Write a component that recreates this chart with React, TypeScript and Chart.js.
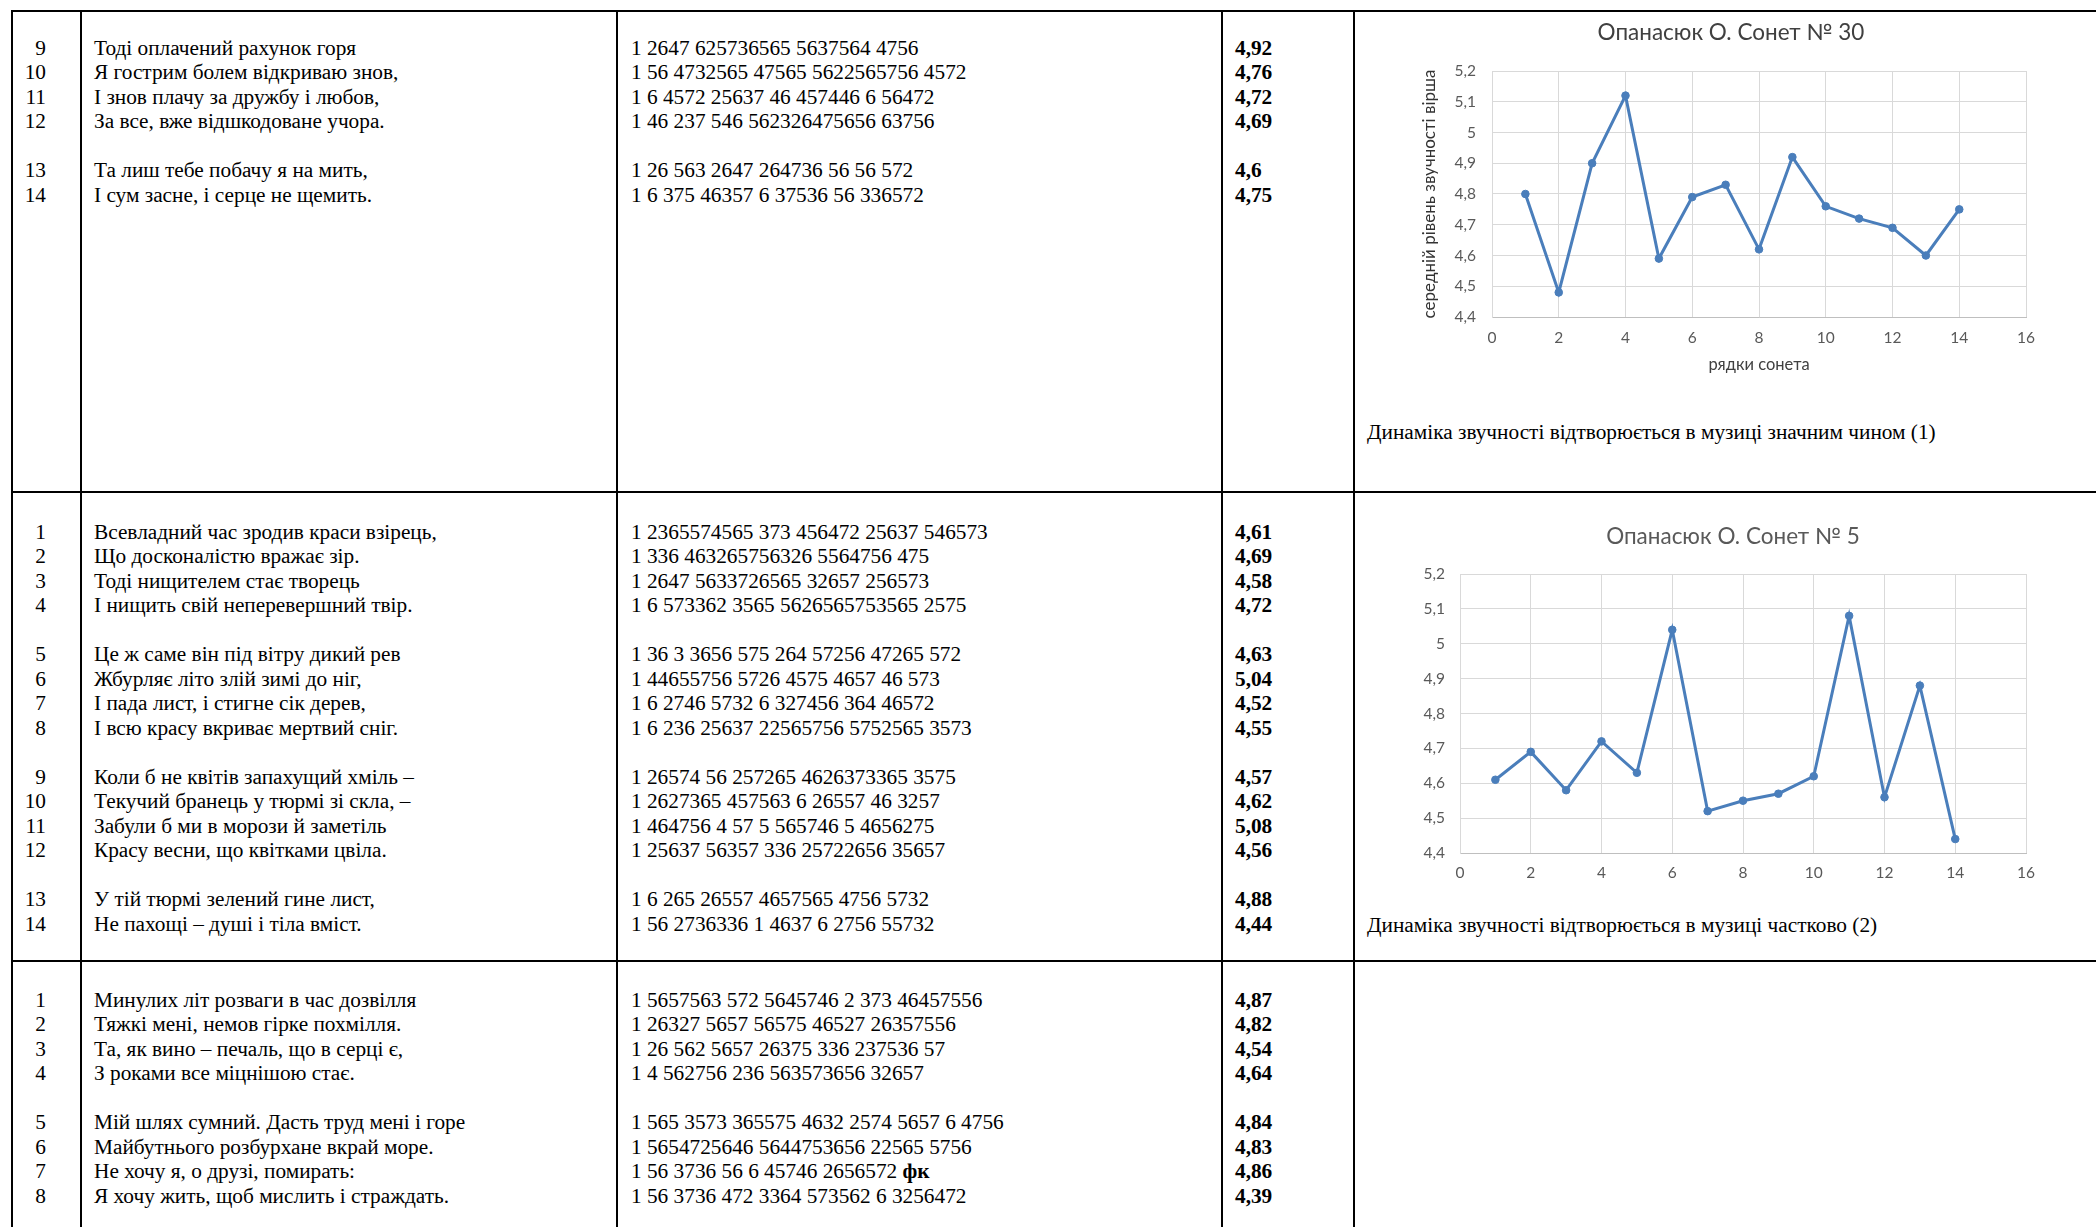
import React, { useEffect, useRef } from "react";
import { Chart, registerables } from "chart.js";

Chart.register(...registerables);

// ---------- chart data ----------
const sonnetLines = [1, 2, 3, 4, 5, 6, 7, 8, 9, 10, 11, 12, 13, 14];
const sonnet30Values = [4.8, 4.48, 4.9, 5.12, 4.59, 4.79, 4.83, 4.62, 4.92, 4.76, 4.72, 4.69, 4.6, 4.75];
const sonnet5Values = [4.61, 4.69, 4.58, 4.72, 4.63, 5.04, 4.52, 4.55, 4.57, 4.62, 5.08, 4.56, 4.88, 4.44];
const chart1Title = "Опанасюк О. Сонет № 30";
const chart2Title = "Опанасюк О. Сонет № 5";
const chart1YTitle = "середній рівень звучності вірша";
const chart1XTitle = "рядки сонета";
const chart1Caption = "Динаміка звучності відтворюється в музиці значним чином (1)";
const chart2Caption = "Динаміка звучності відтворюється в музиці частково (2)";

// ---------- table data ----------
const rowANums = ["9", "10", "11", "12", "", "13", "14"];
const rowAText = [
  "Тоді оплачений рахунок горя",
  "Я гострим болем відкриваю знов,",
  "І знов плачу за дружбу і любов,",
  "За все, вже відшкодоване учора.",
  "",
  "Та лиш тебе побачу я на мить,",
  "І сум засне, і серце не щемить.",
];
const rowACodes = [
  "1 2647 625736565 5637564 4756",
  "1 56 4732565 47565 5622565756 4572",
  "1 6 4572 25637 46 457446 6 56472",
  "1 46 237 546 562326475656 63756",
  "",
  "1 26 563 2647 264736 56 56 572",
  "1 6 375 46357 6 37536 56 336572",
];
const rowAValues = ["4,92", "4,76", "4,72", "4,69", "", "4,6", "4,75"];

const rowBNums = ["1", "2", "3", "4", "", "5", "6", "7", "8", "", "9", "10", "11", "12", "", "13", "14"];
const rowBText = [
  "Всевладний час зродив краси взірець,",
  "Що досконалістю вражає зір.",
  "Тоді нищителем стає творець",
  "І нищить свій неперевершний твір.",
  "",
  "Це ж саме він під вітру дикий рев",
  "Жбурляє літо злій зимі до ніг,",
  "І пада лист, і стигне сік дерев,",
  "І всю красу вкриває мертвий сніг.",
  "",
  "Коли б не квітів запахущий хміль –",
  "Текучий бранець у тюрмі зі скла, –",
  "Забули б ми в морози й заметіль",
  "Красу весни, що квітками цвіла.",
  "",
  "У тій тюрмі зелений гине лист,",
  "Не пахощі – душі і тіла вміст.",
];
const rowBCodes = [
  "1 2365574565 373 456472 25637 546573",
  "1 336 463265756326 5564756 475",
  "1 2647 5633726565 32657 256573",
  "1 6 573362 3565 5626565753565 2575",
  "",
  "1 36 3 3656 575 264 57256 47265 572",
  "1 44655756 5726 4575 4657 46 573",
  "1 6 2746 5732 6 327456 364 46572",
  "1 6 236 25637 22565756 5752565 3573",
  "",
  "1 26574 56 257265 4626373365 3575",
  "1 2627365 457563 6 26557 46 3257",
  "1 464756 4 57 5 565746 5 4656275",
  "1 25637 56357 336 25722656 35657",
  "",
  "1 6 265 26557 4657565 4756 5732",
  "1 56 2736336 1 4637 6 2756 55732",
];
const rowBValues = ["4,61", "4,69", "4,58", "4,72", "", "4,63", "5,04", "4,52", "4,55", "", "4,57", "4,62", "5,08", "4,56", "", "4,88", "4,44"];

const rowCNums = ["1", "2", "3", "4", "", "5", "6", "7", "8"];
const rowCText = [
  "Минулих літ розваги в час дозвілля",
  "Тяжкі мені, немов гірке похмілля.",
  "Та, як вино – печаль, що в серці є,",
  "З роками все міцнішою стає.",
  "",
  "Мій шлях сумний. Дасть труд мені і горе",
  "Майбутнього розбурхане вкрай море.",
  "Не хочу я, о друзі, помирать:",
  "Я хочу жить, щоб мислить і страждать.",
];
const rowCCodes = [
  "1 5657563 572 5645746 2 373 46457556",
  "1 26327 5657 56575 46527 26357556",
  "1 26 562 5657 26375 336 237536 57",
  "1 4 562756 236 563573656 32657",
  "",
  "1 565 3573 365575 4632 2574 5657 6 4756",
  "1 5654725646 5644753656 22565 5756",
  "1 56 3736 56 6 45746 2656572 ",
  "1 56 3736 472 3364 573562 6 3256472",
];
const rowCCodeBoldTail = ["", "", "", "", "", "", "", "фк", ""];
const rowCValues = ["4,87", "4,82", "4,54", "4,64", "", "4,84", "4,83", "4,86", "4,39"];

// ---------- styles ----------
const SERIF = "'Liberation Serif', 'Times New Roman', serif";
const SANS = "Lato, 'Open Sans', 'Noto Sans', sans-serif";
const FS = 21.3;
const LH = 24.5;
const BLUE = "#4a7ebb";

const fmt = (v: any) => String(Math.round(Number(v) * 10) / 10).replace(".", ",");

// Title drawn at a fixed point of the canvas (centre x, centre y)
const fixedTitle = {
  id: "fixedTitle",
  afterDraw(chart: any, _args: any, opts: any) {
    if (!opts || !opts.text) return;
    const ctx = chart.ctx;
    ctx.save();
    ctx.font = `${opts.size}px ${SANS}`;
    ctx.fillStyle = opts.color;
    ctx.textAlign = "center";
    ctx.textBaseline = "middle";
    ctx.fillText(opts.text, opts.x, opts.y);
    ctx.restore();
  },
};

type ChartLayout = {
  title: string;
  titleColor: string;
  titleX: number;
  titleY: number;
  values: number[];
  padTop: number;
  padLeft: number;
  padRight: number;
  yWidth: number;
  xHeight: number;
  yTickPad: number;
  xTickPad: number;
  yTitle?: string;
  xTitle?: string;
  yTitlePad?: number;
  xTitlePad?: number;
};

function LineChart(props: { left: number; top: number; width: number; height: number; cfg: ChartLayout }) {
  const ref = useRef<HTMLCanvasElement | null>(null);
  const { cfg } = props;
  useEffect(() => {
    if (!ref.current) return;
    const chart = new Chart(ref.current, {
      type: "line",
      data: {
        datasets: [
          {
            data: sonnetLines.map((x, i) => ({ x, y: cfg.values[i] })),
            borderColor: BLUE,
            backgroundColor: BLUE,
            borderWidth: 3,
            pointRadius: 3.8,
            pointBorderWidth: 1,
            pointBackgroundColor: BLUE,
            pointBorderColor: BLUE,
            tension: 0,
          },
        ],
      },
      options: {
        animation: false,
        responsive: false,
        maintainAspectRatio: false,
        layout: { padding: { left: cfg.padLeft, right: cfg.padRight, top: cfg.padTop, bottom: 0 } },
        plugins: {
          legend: { display: false },
          tooltip: { enabled: false },
          title: { display: false },
          fixedTitle: {
            text: cfg.title,
            color: cfg.titleColor,
            size: 22.5,
            x: cfg.titleX,
            y: cfg.titleY,
          },
        },
        scales: {
          x: {
            type: "linear",
            min: 0,
            max: 16,
            ticks: {
              stepSize: 2,
              color: "#595959",
              font: { family: SANS, size: 15.5 },
              padding: cfg.xTickPad,
              callback: (v: any) => fmt(v),
            },
            grid: { color: "#d9d9d9", lineWidth: 1, drawTicks: false },
            border: { color: "#bfbfbf", width: 1 },
            title: cfg.xTitle
              ? {
                  display: true,
                  text: cfg.xTitle,
                  color: "#404040",
                  font: { family: SANS, size: 16.5 },
                  padding: { top: 0, bottom: cfg.xTitlePad || 0 },
                }
              : { display: false },
            afterFit: (s: any) => {
              s.height = cfg.xHeight;
            },
          },
          y: {
            type: "linear",
            min: 4.4,
            max: 5.2,
            ticks: {
              stepSize: 0.1,
              color: "#595959",
              font: { family: SANS, size: 15.5 },
              padding: cfg.yTickPad,
              callback: (v: any) => fmt(v),
            },
            grid: { color: "#d9d9d9", lineWidth: 1, drawTicks: false },
            border: { color: "#d9d9d9", width: 1 },
            title: cfg.yTitle
              ? {
                  display: true,
                  text: cfg.yTitle,
                  color: "#333333",
                  font: { family: SANS, size: 17 },
                  padding: { top: cfg.yTitlePad || 0, bottom: 0 },
                }
              : { display: false },
            afterFit: (s: any) => {
              s.width = cfg.yWidth;
            },
          },
        },
      } as any,
      plugins: [fixedTitle as any],
    });
    return () => chart.destroy();
  }, []);
  return (
    <canvas
      ref={ref}
      width={props.width}
      height={props.height}
      style={{ position: "absolute", left: props.left, top: props.top, width: props.width, height: props.height }}
    />
  );
}

function Block(props: {
  top: number;
  nums: string[];
  text: string[];
  codes: string[];
  values: string[];
  bold?: string[];
}) {
  const { top, nums, text, codes, values, bold } = props;
  const common: React.CSSProperties = {
    position: "absolute",
    top,
    fontFamily: SERIF,
    fontSize: FS,
    lineHeight: LH + "px",
    whiteSpace: "pre",
    color: "#000",
  };
  return (
    <>
      <div style={{ ...common, left: 0, width: 46, textAlign: "right" }}>
        {nums.map((n, i) => (
          <div key={i} style={{ height: LH }}>{n || "\u00a0"}</div>
        ))}
      </div>
      <div style={{ ...common, left: 94 }}>
        {text.map((t, i) => (
          <div key={i} style={{ height: LH }}>{t || "\u00a0"}</div>
        ))}
      </div>
      <div style={{ ...common, left: 631 }}>
        {codes.map((t, i) => (
          <div key={i} style={{ height: LH }}>
            {t || "\u00a0"}
            {bold && bold[i] ? <b>{bold[i]}</b> : null}
          </div>
        ))}
      </div>
      <div style={{ ...common, left: 1235, fontWeight: "bold" }}>
        {values.map((t, i) => (
          <div key={i} style={{ height: LH }}>{t || "\u00a0"}</div>
        ))}
      </div>
    </>
  );
}

// Chart 1: canvas x 1366..2096, y 12..392; plot 1492..2026 x 71..317
const chart1Cfg: ChartLayout = {
  title: chart1Title,
  titleColor: "#404040",
  titleX: 365,
  titleY: 21,
  values: sonnet30Values,
  padTop: 59,
  padLeft: 70,
  padRight: 70,
  yWidth: 56,
  xHeight: 75,
  yTickPad: 16,
  xTickPad: 11.7,
  yTitle: chart1YTitle,
  xTitle: chart1XTitle,
  yTitlePad: -16.5,
  xTitlePad: 17.1,
};

// Chart 2: canvas x 1366..2096, y 495..890; plot 1460..2026 x 574..853
const chart2Cfg: ChartLayout = {
  title: chart2Title,
  titleColor: "#595959",
  titleX: 367,
  titleY: 42,
  values: sonnet5Values,
  padTop: 79,
  padLeft: 0,
  padRight: 70,
  yWidth: 94,
  xHeight: 37,
  yTickPad: 15,
  xTickPad: 10.7,
};

const hLine = (top: number): React.CSSProperties => ({
  position: "absolute",
  left: 11,
  top,
  width: 2096 - 11,
  height: 2,
  background: "#000",
});
const vLine = (left: number): React.CSSProperties => ({
  position: "absolute",
  left,
  top: 10,
  width: 2,
  height: 1227 - 10,
  background: "#000",
});

export default function App() {
  useEffect(() => {
    document.body.style.margin = "0";
  }, []);
  return (
    <div
      style={{
        position: "absolute",
        left: 0,
        top: 0,
        width: 2096,
        height: 1227,
        overflow: "hidden",
        background: "#fff",
      }}
    >
      <div style={hLine(10)} />
      <div style={hLine(491)} />
      <div style={hLine(960)} />
      <div style={vLine(11)} />
      <div style={vLine(80)} />
      <div style={vLine(616)} />
      <div style={vLine(1221)} />
      <div style={vLine(1353)} />

      <Block top={35.75} nums={rowANums} text={rowAText} codes={rowACodes} values={rowAValues} />
      <Block top={519.75} nums={rowBNums} text={rowBText} codes={rowBCodes} values={rowBValues} />
      <Block top={987.75} nums={rowCNums} text={rowCText} codes={rowCCodes} values={rowCValues} bold={rowCCodeBoldTail} />

      <LineChart left={1366} top={12} width={730} height={380} cfg={chart1Cfg} />
      <LineChart left={1366} top={495} width={730} height={395} cfg={chart2Cfg} />

      <div
        style={{
          position: "absolute",
          left: 1367,
          top: 419.75,
          fontFamily: SERIF,
          fontSize: FS,
          lineHeight: LH + "px",
          whiteSpace: "pre",
        }}
      >
        {chart1Caption}
      </div>
      <div
        style={{
          position: "absolute",
          left: 1367,
          top: 912.75,
          fontFamily: SERIF,
          fontSize: FS,
          lineHeight: LH + "px",
          whiteSpace: "pre",
        }}
      >
        {chart2Caption}
      </div>
    </div>
  );
}
